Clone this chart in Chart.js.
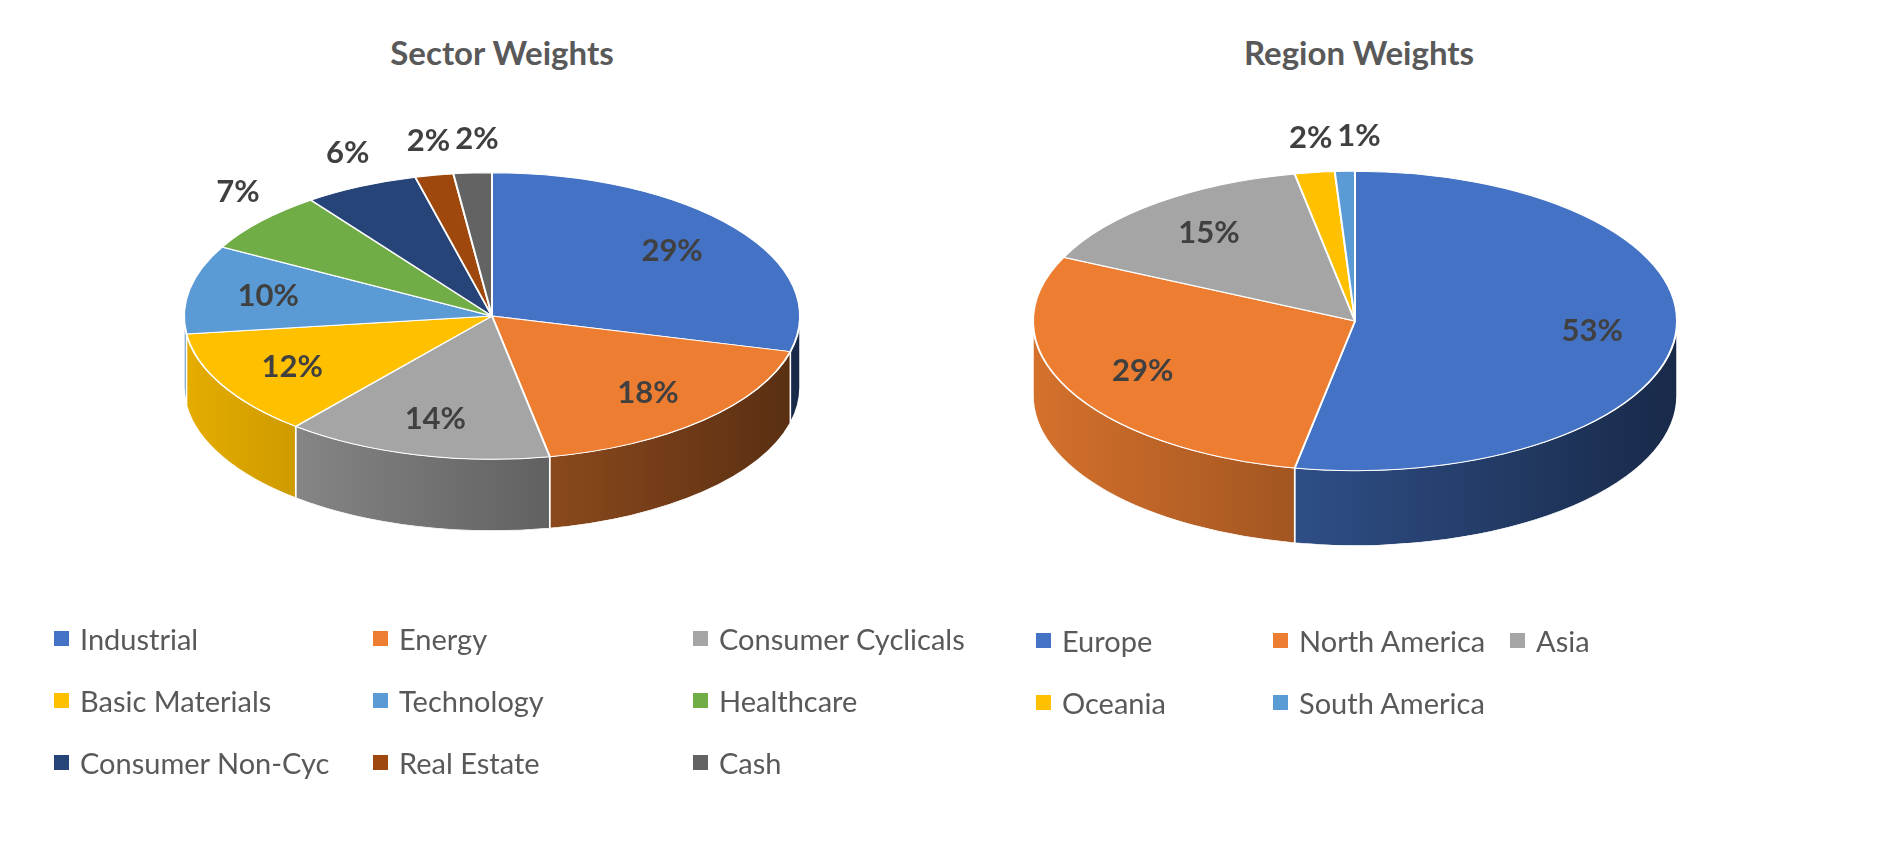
<!DOCTYPE html>
<html>
<head>
<meta charset="utf-8">
<script src="https://cdn.jsdelivr.net/npm/chart.js@4.4.1/dist/chart.umd.min.js"></script>
<style>
  html, body { margin: 0; padding: 0; background: #fff; }
  body { width: 1885px; height: 864px; position: relative; overflow: hidden; font-family: Lato, "Open Sans", sans-serif; }
  canvas { position: absolute; top: 0; }
  .title { position: absolute; top: 32px; font: bold 33px Lato, sans-serif; line-height: 40px; color: #595959; transform: translateX(-50%); white-space: nowrap; }
  .legend { position: absolute; display: grid; }
  .item { display: flex; align-items: center; height: 62px; font-size: 29px; color: #595959; white-space: nowrap; }
  .item span { display: inline-block; width: 15px; height: 15px; margin-right: 11px; flex: none; }
</style>
</head>
<body>
<div class="title" id="t1" style="left:502px">Sector Weights</div>
<div class="title" id="t2" style="left:1359px">Region Weights</div>
<canvas id="sector" width="940" height="640" style="left:0;width:940px;height:640px"></canvas>
<canvas id="region" width="945" height="640" style="left:940px;width:945px;height:640px"></canvas>
<div class="legend" id="leg1" style="left:54px;top:607px;grid-template-columns:319px 320px auto"></div>
<div class="legend" id="leg2" style="left:1036px;top:609px;grid-template-columns:237px 237px auto"></div>
<script>
// data
const sectorLabels = ['Industrial', 'Energy', 'Consumer Cyclicals', 'Basic Materials', 'Technology', 'Healthcare', 'Consumer Non-Cyc', 'Real Estate', 'Cash'];
const sectorValues = [29, 18, 14, 12, 10, 7, 6, 2, 2];
const regionLabels = ['Europe', 'North America', 'Asia', 'Oceania', 'South America'];
const regionValues = [53, 29, 15, 2, 1];

// office palette
const palette = ['#4472C4', '#ED7D31', '#A5A5A5', '#FFC000', '#5B9BD5', '#70AD47', '#264478', '#9E480E', '#636363'];

function shade(hex, f) {
    const n = parseInt(hex.slice(1), 16);
    const r = Math.round(((n >> 16) & 255) * f);
    const g = Math.round(((n >> 8) & 255) * f);
    const b = Math.round((n & 255) * f);
    return `rgb(${r},${g},${b})`;
}

const TILT = 0.465;   // squash of the pie top
const DEPTH = 0.232;  // side height, as part of radius

// fakes an excel 3d pie: squash the arcs and draw the side wall under them
const pie3d = {
    id: 'pie3d',
    beforeDatasetsDraw(chart) {
        const meta = chart.getDatasetMeta(0);
        const first = meta.data[0];
        const cx = first.x, cy = first.y, R = first.outerRadius;
        const D = DEPTH * R / TILT;
        const ctx = chart.ctx;
        const colors = chart.data.datasets[0].backgroundColor;
        ctx.save();
        ctx.translate(cx, cy);
        ctx.scale(1, TILT);
        ctx.translate(-cx, -cy);
        meta.data.forEach((arc, i) => {
            const a = Math.max(arc.startAngle, 0);
            const b = Math.min(arc.endAngle, Math.PI);
            if (b <= a) return;
            const grad = ctx.createLinearGradient(cx - R, 0, cx + R, 0);
            grad.addColorStop(0, shade(colors[i], 0.9));
            grad.addColorStop(1, shade(colors[i], 0.37));
            ctx.beginPath();
            ctx.arc(cx, cy, R, a, b);
            ctx.arc(cx, cy + D, R, b, a, true);
            ctx.closePath();
            ctx.fillStyle = grad;
            ctx.fill();
            ctx.strokeStyle = '#fff';
            ctx.lineWidth = 1.5;
            ctx.stroke();
        });
    },
    afterDatasetsDraw(chart) {
        const ctx = chart.ctx;
        ctx.restore();
        const meta = chart.getDatasetMeta(0);
        const values = chart.data.datasets[0].data;
        const total = values.reduce((s, v) => s + v, 0);
        ctx.save();
        ctx.font = 'bold 31px Lato, sans-serif';
        ctx.fillStyle = '#404040';
        ctx.textAlign = 'center';
        ctx.textBaseline = 'middle';
        let prev = null;
        meta.data.forEach((arc, i) => {
            const pct = Math.round(values[i] / total * 100);
            const txt = pct + '%';
            const mid = (arc.startAngle + arc.endAngle) / 2;
            const R = arc.outerRadius;
            let x, y;
            if (pct >= 8) {
                x = arc.x + 0.74 * R * Math.cos(mid);
                y = arc.y + TILT * 0.74 * R * Math.sin(mid);
            } else {
                x = arc.x + 1.1 * R * Math.cos(mid);
                y = arc.y + TILT * 1.1 * R * Math.sin(mid) - 20;
                const w = ctx.measureText(txt).width;
                if (prev && x - w / 2 < prev + 5) x = prev + 5 + w / 2;
                prev = x + w / 2;
            }
            ctx.fillText(txt, x, y);
        });
        ctx.restore();
    }
};

function makePie(id, labels, values, cx, cy, radius, w, h) {
    const half = 290;
    new Chart(document.getElementById(id), {
        type: 'pie',
        data: {
            labels: labels,
            datasets: [{
                data: values,
                backgroundColor: palette.slice(0, values.length),
                borderColor: '#fff',
                borderWidth: 2,
                clip: false
            }]
        },
        options: {
            responsive: false,
            animation: false,
            events: [],
            radius: radius,
            layout: { padding: { left: cx - half, right: w - cx - half, top: cy - half, bottom: h - cy - half } },
            plugins: { legend: { display: false }, tooltip: { enabled: false }, title: { display: false } }
        },
        plugins: [pie3d]
    });
}

makePie('sector', sectorLabels, sectorValues, 492, 316, 308, 940, 640);
makePie('region', regionLabels, regionValues, 415, 321, 322, 945, 640);

function makeLegend(id, labels) {
    const box = document.getElementById(id);
    labels.forEach((name, i) => {
        const d = document.createElement('div');
        d.className = 'item';
        d.innerHTML = `<span style="background:${palette[i]}"></span>${name}`;
        box.appendChild(d);
    });
}
makeLegend('leg1', sectorLabels);
makeLegend('leg2', regionLabels);
</script>
</body>
</html>
